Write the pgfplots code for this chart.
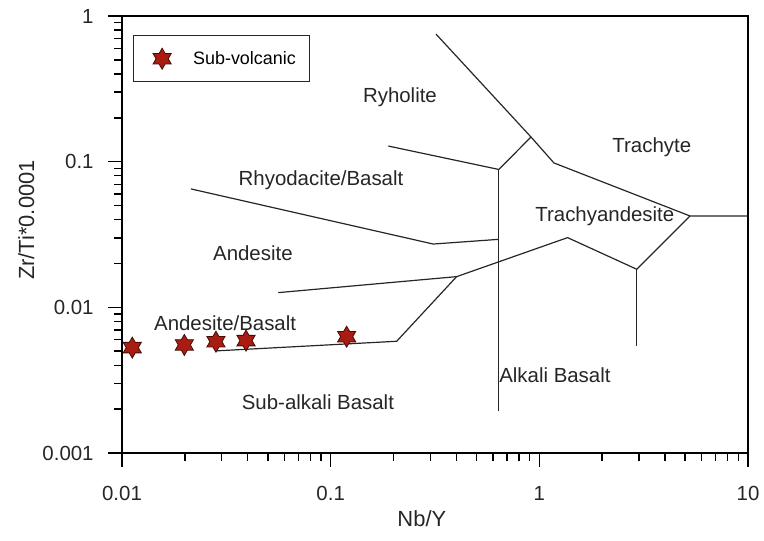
\documentclass[border=0pt]{standalone}
\usepackage{fontspec}
\setmainfont{Liberation Sans}
\usepackage{pgfplots}
\pgfplotsset{compat=1.18}

\definecolor{starred}{RGB}{168,28,18}
\definecolor{stardark}{RGB}{70,12,6}

% six-pointed star mark
\pgfdeclareplotmark{hexstar}{%
  \pgfpathmoveto{\pgfpointpolar{90}{\pgfplotmarksize}}%
  \pgfpathlineto{\pgfpointpolar{120}{0.577\pgfplotmarksize}}%
  \pgfpathlineto{\pgfpointpolar{150}{\pgfplotmarksize}}%
  \pgfpathlineto{\pgfpointpolar{180}{0.577\pgfplotmarksize}}%
  \pgfpathlineto{\pgfpointpolar{210}{\pgfplotmarksize}}%
  \pgfpathlineto{\pgfpointpolar{240}{0.577\pgfplotmarksize}}%
  \pgfpathlineto{\pgfpointpolar{270}{\pgfplotmarksize}}%
  \pgfpathlineto{\pgfpointpolar{300}{0.577\pgfplotmarksize}}%
  \pgfpathlineto{\pgfpointpolar{330}{\pgfplotmarksize}}%
  \pgfpathlineto{\pgfpointpolar{0}{0.577\pgfplotmarksize}}%
  \pgfpathlineto{\pgfpointpolar{30}{\pgfplotmarksize}}%
  \pgfpathlineto{\pgfpointpolar{60}{0.577\pgfplotmarksize}}%
  \pgfpathclose
  \pgfusepathqfillstroke
}

\begin{document}
\begin{tikzpicture}
\begin{loglogaxis}[
    scale only axis,
    width=626bp, height=437bp,
    xmin=0.01, xmax=10, ymin=0.001, ymax=1,
    xtick={0.01,0.1,1,10}, xticklabels={0.01,0.1,1,10},
    ytick={0.001,0.01,0.1,1}, yticklabels={0.001,0.01,0.1,1},
    tick align=outside, tick pos=left,
    major tick length=14bp, minor tick length=8bp,
    axis line style={line width=1.8bp},
    every tick/.style={black, line width=1.4bp},
    ticklabel style={font=\fontsize{20.5}{22}\selectfont, text=black!85},
    xticklabel style={yshift=-16bp},
    yticklabel style={xshift=-11bp},
    xlabel={Nb/Y}, ylabel={Zr/Ti*0.0001},
    label style={font=\fontsize{22}{24}\selectfont, text=black!85},
    xlabel style={at={(axis description cs:0.479,0)}, yshift=-66bp, anchor=center},
    ylabel style={at={(axis description cs:-0.153,0.533)}, anchor=center},
    legend style={at={(rel axis cs:0.017,0.956)}, anchor=north west,
        draw=black!85, line width=1bp, inner xsep=12bp, inner ysep=9bp,
        font=\fontsize{18}{20}\selectfont},
    legend cell align=left,
    boundary/.style={black!85, line width=1.2bp, no markers, forget plot},
]
% field boundaries
\addplot[boundary] coordinates {(0.3196,0.752) (0.912,0.1477) (1.175,0.098) (5.27,0.0424) (10,0.0424)};
\addplot[boundary] coordinates {(0.189,0.128) (0.640,0.0884) (0.912,0.1477)};
\addplot[boundary] coordinates {(0.640,0.0884) (0.640,0.00195)};
\addplot[boundary] coordinates {(0.0214,0.065) (0.310,0.0272) (0.640,0.0293)};
\addplot[boundary] coordinates {(0.0561,0.01262) (0.4016,0.01625) (1.366,0.0301) (2.93,0.01826) (5.27,0.0424)};
\addplot[boundary] coordinates {(0.0279,0.00502) (0.2072,0.00585) (0.4016,0.01625)};
\addplot[boundary] coordinates {(2.93,0.01826) (2.93,0.00543)};

% samples
\addplot[only marks, mark=hexstar, mark size=10.5bp,
    mark options={fill=starred, draw=stardark, line width=0.8bp},
    legend image code/.code={\path[draw=none, fill=none] (0bp,-14bp) rectangle (46bp,14bp);
        \draw[##1] plot coordinates {(17bp,0bp)};}]
    coordinates {(0.0112,0.00529) (0.0199,0.00552) (0.0282,0.00581) (0.0393,0.00591) (0.1193,0.00629)};
\addlegendentry{Sub-volcanic}

% field names
\begin{scope}[every node/.style={font=\fontsize{20.5}{22}\selectfont, text=black!85, inner sep=0pt}]
\node at (axis cs:0.2148,0.278) {Ryholite};
\node at (axis cs:3.46,0.126) {Trachyte};
\node at (axis cs:0.0899,0.0749) {Rhyodacite/Basalt};
\node at (axis cs:2.06,0.0424) {Trachyandesite};
\node at (axis cs:0.0424,0.0236) {Andesite};
\node at (axis cs:0.0312,0.00782) {Andesite/Basalt};
\node at (axis cs:0.0869,0.00224) {Sub-alkali Basalt};
\node at (axis cs:1.188,0.00344) {Alkali Basalt};
\end{scope}
\end{loglogaxis}
\pgfresetboundingbox
\path ([shift={(-122bp,-87bp)}]current axis.south west) rectangle ([shift={(16bp,16bp)}]current axis.north east);
\end{tikzpicture}
\end{document}
